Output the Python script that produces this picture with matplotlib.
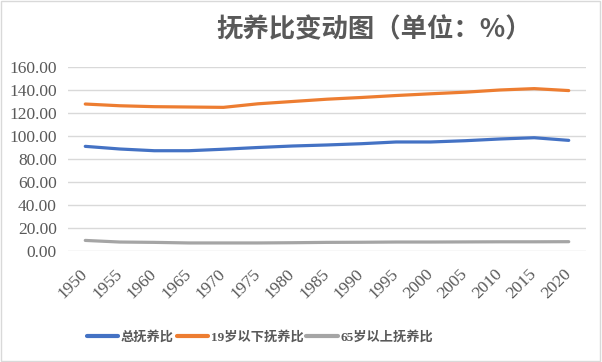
import matplotlib
matplotlib.use("Agg")
import matplotlib.pyplot as plt
from matplotlib.patches import Rectangle

years = ["1950","1955","1960","1965","1970","1975","1980","1985","1990","1995","2000","2005","2010","2015","2020"]
total = [91.0, 88.7, 87.2, 87.2, 88.5, 90.0, 91.3, 92.2, 93.3, 94.8, 94.8, 95.9, 97.4, 98.5, 96.2]
under19 = [127.8, 126.3, 125.5, 125.2, 124.9, 128.0, 130.0, 132.0, 133.5, 135.2, 136.7, 138.1, 140.0, 141.2, 139.5]
over65 = [9.2, 7.8, 7.5, 7.0, 7.0, 7.0, 7.2, 7.5, 7.6, 7.8, 7.8, 7.9, 8.0, 8.0, 8.1]
names = ["总抚养比", "19岁以下抚养比", "65岁以上抚养比"]
colors = ["#4472C4", "#ED7D31", "#A5A5A5"]

fam = ["Liberation Serif", "Noto Sans CJK SC"]

fig = plt.figure(figsize=(6.02, 3.62), dpi=100)
ax = fig.add_axes([68/602, 1-251/362, 518/602, 184/362])

x = list(range(len(years)))
for vals, nm, c in zip([total, under19, over65], names, colors):
    ax.plot(x, vals, color=c, lw=2.3, label=nm, solid_capstyle="round")

ax.set_xlim(-0.5, len(years)-0.5)
ax.set_ylim(0, 160)
ax.set_yticks(range(0, 161, 20))
ax.set_yticklabels([f"{v:.2f}" for v in range(0, 161, 20)], fontsize=12.5, color="#595959",
                   family="Liberation Serif")
ax.set_xticks(x)
ax.set_xticklabels(years, rotation=45, ha="right", va="center", rotation_mode="anchor",
                   fontsize=12.5, color="#595959", family="Liberation Serif")
ax.tick_params(axis="y", length=0, pad=8)
ax.tick_params(axis="x", length=0, pad=15)
ax.grid(axis="y", color="#D9D9D9", lw=1)
ax.set_axisbelow(True)
for s in ax.spines.values():
    s.set_visible(False)

fig.text(374/602, 1-30/362, "抚养比变动图（单位：%）", ha="center", va="center",
         fontsize=19, fontweight="bold", color="#595959", family=["Noto Sans CJK SC"])

leg = fig.legend(loc="center", bbox_to_anchor=(260/602, 1-337/362), ncol=3, frameon=False,
                 prop={"family": fam, "size": 9.5, "weight": "bold"}, handlelength=2.4,
                 columnspacing=0.2, handletextpad=0.2)
for t in leg.get_texts():
    t.set_color("#595959")
for l in leg.get_lines():
    l.set_linewidth(3)

fig.patches.append(Rectangle((0.002, 0.003), 0.994, 0.994, transform=fig.transFigure,
                             fill=False, edgecolor="#D9D9D9", lw=1))
fig.savefig("out.png", dpi=100)
